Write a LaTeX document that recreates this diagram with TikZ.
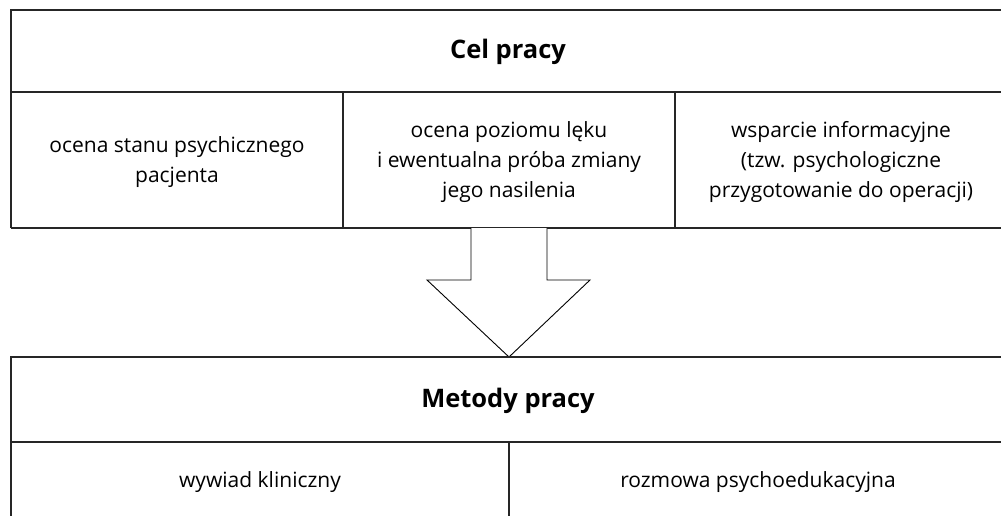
\documentclass[tikz,border=0pt]{standalone}
\usepackage{fontspec}
\setmainfont{Open Sans}
\begin{document}
\begin{tikzpicture}[x=1pt,y=-1pt,
  frame/.style={draw=black!85,line width=1.3pt},
  head/.style={font=\fontsize{25.5}{29}\selectfont\bfseries,anchor=center},
  cell/.style={font=\fontsize{21}{30}\selectfont,align=center,anchor=center},
  blockarrow/.style={draw=black,line width=0.9pt,fill=white,line join=miter}]
\useasboundingbox (0,0) rectangle (1001,516);
% top table
\draw[frame] (1001,10) -- (11,10) -- (11,228);
\draw[frame] (11,92) -- (1001,92);
\draw[frame] (11,228) -- (1001,228);
\draw[frame] (343,92) -- (343,228);
\draw[frame] (675,92) -- (675,228);
\node[head] (cel) at (508,52) {Cel pracy};
\node[cell] (c1) at (177,162) {ocena stanu psychicznego\\pacjenta};
\node[cell] (c2) at (509,162) {ocena poziomu lęku\\i ewentualna próba zmiany\\jego nasilenia};
\node[cell] (c3) at (841,162) {wsparcie informacyjne\\(tzw. psychologiczne\\przygotowanie do operacji)};
% arrow
\draw[blockarrow] (471,228) -- (471,280) -- (427,280) -- (509,357) -- (590,280) -- (547,280) -- (547,228);
% bottom table
\draw[frame] (1001,357) -- (11,357) -- (11,516);
\draw[frame] (11,442) -- (1001,442);
\draw[frame] (509,442) -- (509,516);
\node[head] (met) at (508,401) {Metody pracy};
\node[cell] (m1) at (260,482) {wywiad kliniczny};
\node[cell] (m2) at (758,482) {rozmowa psychoedukacyjna};
\end{tikzpicture}
\end{document}
